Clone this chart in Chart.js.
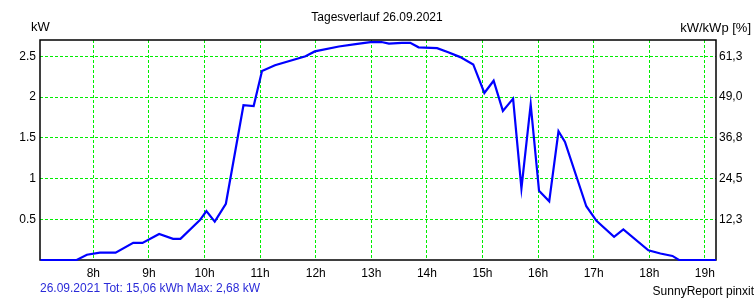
<!DOCTYPE html>
<html>
<head>
<meta charset="utf-8">
<script src="https://cdn.jsdelivr.net/npm/chart.js@4/dist/chart.umd.min.js"></script>
<style>
  body { margin: 0; background: #fff; }
  canvas { display: block; }
</style>
</head>
<body>
<canvas id="tagesverlauf" width="756" height="300"></canvas>
<script>
"use strict";

// Uhrzeiten der Messpunkte
const times = ['7:03', '7:42', '7:53', '8:07', '8:24', '8:43', '8:53', '9:11', '9:26', '9:34',
  '9:55', '10:02', '10:11', '10:23', '10:42', '10:53', '11:02', '11:16', '11:49', '11:59',
  '12:25', '12:43', '12:59', '13:11', '13:19', '13:33', '13:42', '13:51', '14:11', '14:23',
  '14:36', '14:50', '15:02', '15:12', '15:22', '15:33', '15:42', '15:52', '16:01', '16:12',
  '16:22', '16:29', '16:52', '17:03', '17:22', '17:32', '17:59', '18:12', '18:25', '18:32', '19:12'];
// Leistung in kW
const power = [0, 0, 0.065, 0.09, 0.09, 0.21, 0.21, 0.32, 0.26, 0.26,
  0.49, 0.60, 0.47, 0.69, 1.90, 1.89, 2.32, 2.39, 2.50, 2.56,
  2.62, 2.65, 2.675, 2.675, 2.655, 2.665, 2.665, 2.61, 2.60, 2.55,
  2.49, 2.40, 2.05, 2.20, 1.83, 1.98, 0.88, 1.91, 0.85, 0.72,
  1.58, 1.45, 0.66, 0.48, 0.285, 0.375, 0.12, 0.08, 0.05, 0, 0];

// Achsenbeschriftungen
const hourTicks = [8, 9, 10, 11, 12, 13, 14, 15, 16, 17, 18, 19];
const kwTicks = [0.5, 1, 1.5, 2, 2.5];
const percentLabels = ['12,3', '24,5', '36,8', '49,0', '61,3'];

// Uhrzeit "hh:mm" -> Stunden als Dezimalzahl
function toHours(t) {
  let parts = t.split(':');
  return Number(parts[0]) + Number(parts[1]) / 60;
}

let points = [];
for (let i = 0; i < times.length; i++) {
  points.push({ x: toHours(times[i]), y: power[i] });
}

const green = '#00ee00';
const font = { family: 'Arial, "Liberation Sans", sans-serif', size: 12 };

// Rahmen und Beschriftungen
const frameAndTexts = {
  id: 'frameAndTexts',
  beforeDatasetsDraw(chart) {
    const a = chart.chartArea;
    const ctx = chart.ctx;
    ctx.save();
    ctx.strokeStyle = '#000';
    ctx.lineWidth = 1.5;
    ctx.strokeRect(a.left, a.top, a.right - a.left, a.bottom - a.top);
    ctx.restore();
  },
  afterDraw(chart) {
    const ctx = chart.ctx;
    ctx.save();
    ctx.font = '12px Arial, "Liberation Sans", sans-serif';
    ctx.fillStyle = '#000';
    ctx.textBaseline = 'middle';
    ctx.textAlign = 'center';
    ctx.fillText('Tagesverlauf 26.09.2021', 377, 18);
    ctx.font = '13px Arial, "Liberation Sans", sans-serif';
    ctx.textAlign = 'left';
    ctx.fillText('kW', 31, 27);
    ctx.textAlign = 'right';
    ctx.fillText('kW/kWp [%]', 751, 28);
    ctx.font = '12px Arial, "Liberation Sans", sans-serif';
    ctx.fillText('SunnyReport pinxit', 754, 292);
    ctx.textAlign = 'left';
    ctx.fillStyle = '#2a2ad8';
    ctx.fillText('26.09.2021 Tot: 15,06 kWh Max: 2,68 kW', 40, 289);
    ctx.restore();
  }
};

new Chart(document.getElementById('tagesverlauf').getContext('2d'), {
  type: 'line',
  data: {
    datasets: [{
      data: points,
      borderColor: '#0000ff',
      borderWidth: 2.2,
      pointRadius: 0,
      tension: 0,
      fill: false,
      clip: 3
    }]
  },
  options: {
    responsive: false,
    animation: false,
    devicePixelRatio: 1,
    layout: { padding: { top: 40, left: 0, right: 0, bottom: 0 } },
    plugins: {
      legend: { display: false },
      tooltip: { enabled: false }
    },
    scales: {
      x: {
        type: 'linear',
        position: 'bottom',
        min: 7.04,
        max: 19.2,
        afterBuildTicks: (s) => { s.ticks = hourTicks.map(v => ({ value: v })); },
        afterFit: (s) => { s.height = 40; },
        ticks: {
          callback: (v) => v + 'h',
          font: font,
          color: '#000',
          padding: 6,
          maxRotation: 0,
          autoSkip: false
        },
        grid: { color: green, lineWidth: 1, drawTicks: false },
        border: { display: false, dash: [3, 2] }
      },
      y: {
        position: 'left',
        min: 0,
        max: 2.7,
        afterBuildTicks: (s) => { s.ticks = kwTicks.map(v => ({ value: v })); },
        afterFit: (s) => { s.width = 40; },
        ticks: {
          callback: (v) => String(v),
          font: font,
          color: '#000',
          padding: 4
        },
        grid: { color: green, lineWidth: 1, drawTicks: false },
        border: { display: false, dash: [3, 2] }
      },
      y2: {
        position: 'right',
        min: 0,
        max: 2.7,
        afterBuildTicks: (s) => { s.ticks = kwTicks.map(v => ({ value: v })); },
        afterFit: (s) => { s.width = 40; },
        ticks: {
          callback: (v, i) => percentLabels[i],
          font: font,
          color: '#000',
          padding: 3
        },
        grid: { display: false, drawTicks: false },
        border: { display: false }
      }
    }
  },
  plugins: [frameAndTexts]
});
</script>
</body>
</html>
